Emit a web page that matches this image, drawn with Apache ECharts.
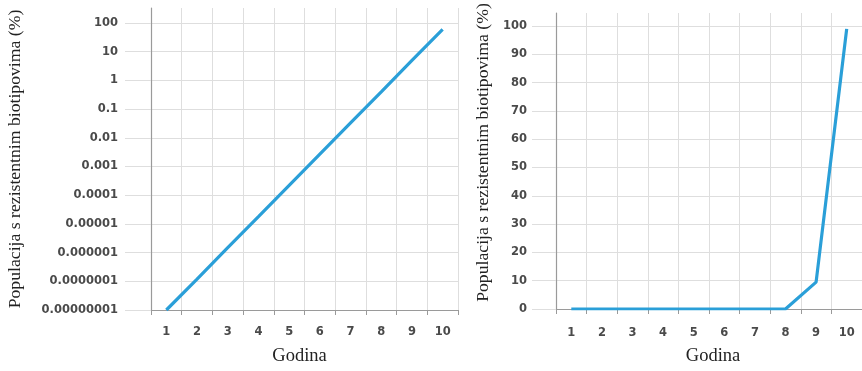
<!DOCTYPE html>
<html>
<head>
<meta charset="utf-8">
<script src="https://cdn.jsdelivr.net/npm/echarts@6/dist/echarts.min.js"></script>
<style>html,body{margin:0;padding:0;background:#fff;}#c{width:862px;height:371px;}</style>
</head>
<body>
<div id="c"></div>
<script>
const years = ['1','2','3','4','5','6','7','8','9','10'];
const logValues = [1e-8, 1.2e-7, 1.5e-6, 1.8e-5, 2.2e-4, 2.7e-3, 0.033, 0.4, 5, 60];
const linValues = [0, 0, 0, 0, 0, 0, 0, 0, 9.5, 99];
const logTickValues = [1e-8, 1e-7, 1e-6, 1e-5, 1e-4, 1e-3, 1e-2, 0.1, 1, 10, 100];
const logTickLabels = ['0.00000001','0.0000001','0.000001','0.00001','0.0001','0.001','0.01','0.1','1','10','100'];
const linTickValues = [0,10,20,30,40,50,60,70,80,90,100];
const yTitle = 'Populacija s rezistentnim biotipovima (%)';
const xTitle = 'Godina';

const gridColor = '#dedede';
const axisColor = '#9a9a9a';
const labelStyle = {color:'#4a4a4a', fontFamily:'DejaVu Sans, sans-serif', fontSize:11.5, fontWeight:'bold'};
const yTitleStyle = {color:'#222', fontFamily:'Liberation Serif, Times New Roman, serif', fontSize:17.7};
const xTitleStyle = {color:'#222', fontFamily:'Liberation Serif, Times New Roman, serif', fontSize:18.5};
const lineColor = '#2a9fd8';

function logLabel(v){
  let best = 0, bd = Infinity;
  logTickValues.forEach((t,i)=>{const d=Math.abs(Math.log10(t)-Math.log10(v)); if(d<bd){bd=d;best=i;}});
  return bd < 0.01 ? logTickLabels[best] : '';
}

// decorative top extension of the frame (axis line + vertical grid lines above the top tick)
function extX(gi){
  return {type:'category', gridIndex:gi, data:years, boundaryGap:true,
    axisLine:{show:false}, axisTick:{show:false}, axisLabel:{show:false},
    splitLine:{show:true, lineStyle:{color:gridColor}}};
}
function extY(gi){
  return {type:'value', gridIndex:gi, min:0, max:1,
    axisLine:{show:true, lineStyle:{color:axisColor, width:1.2}},
    axisTick:{show:false}, axisLabel:{show:false}, splitLine:{show:false}};
}

const chart = echarts.init(document.getElementById('c'), null, {renderer:'canvas'});
chart.setOption({
  animation:false,
  backgroundColor:'#fff',
  grid:[
    {left:151, top:23, width:307, height:290},
    {left:556, top:26, width:313, height:290},
    {left:151, top:8, width:307, height:15},
    {left:556, top:13, width:313, height:13}
  ],
  xAxis:[
    {type:'category', gridIndex:0, data:years, boundaryGap:true,
     axisLine:{lineStyle:{color:axisColor, width:1.2}},
     axisTick:{show:true, length:5, lineStyle:{color:axisColor}},
     axisLabel:Object.assign({margin:16}, labelStyle),
     splitLine:{show:true, lineStyle:{color:gridColor}},
     name:xTitle, nameLocation:'middle', nameGap:37,
     nameTextStyle:Object.assign({padding:[0,10,0,0]}, xTitleStyle)},
    {type:'category', gridIndex:1, data:years, boundaryGap:true,
     axisLine:{lineStyle:{color:axisColor, width:1.2}},
     axisTick:{show:true, length:5, lineStyle:{color:axisColor}},
     axisLabel:Object.assign({margin:18}, labelStyle),
     splitLine:{show:true, lineStyle:{color:gridColor}},
     name:xTitle, nameLocation:'middle', nameGap:38,
     nameTextStyle:Object.assign({padding:[0,0,0,8]}, xTitleStyle)},
    extX(2), extX(3)
  ],
  yAxis:[
    {type:'log', gridIndex:0, logBase:10, min:1e-8, max:100, interval:1, splitNumber:10,
     axisLine:{show:true, lineStyle:{color:axisColor, width:1.2}},
     axisTick:{show:true, length:26, lineStyle:{color:gridColor, width:1}},
     axisLabel:Object.assign({margin:33, formatter:logLabel}, labelStyle),
     splitLine:{show:true, lineStyle:{color:gridColor}},
     name:yTitle, nameLocation:'middle', nameGap:127,
     nameTextStyle:Object.assign({padding:[0,0,0,15]}, yTitleStyle)},
    {type:'value', gridIndex:1, min:0, max:100, interval:10,
     axisLine:{show:true, lineStyle:{color:axisColor, width:1.2}},
     axisTick:{show:true, length:24, lineStyle:{color:gridColor, width:1}},
     axisLabel:Object.assign({margin:29}, labelStyle),
     splitLine:{show:true, lineStyle:{color:gridColor}},
     name:yTitle, nameLocation:'middle', nameGap:64,
     nameTextStyle:Object.assign({padding:[0,0,0,30], backgroundColor:'#fff'}, yTitleStyle)},
    extY(2), extY(3)
  ],
  series:[
    {type:'line', xAxisIndex:0, yAxisIndex:0, data:logValues, showSymbol:false, symbol:'none',
     lineStyle:{color:lineColor, width:3.2}},
    {type:'line', xAxisIndex:1, yAxisIndex:1, data:linValues, showSymbol:false, symbol:'none',
     lineStyle:{color:lineColor, width:3.2}}
  ]
});
</script>
</body>
</html>
